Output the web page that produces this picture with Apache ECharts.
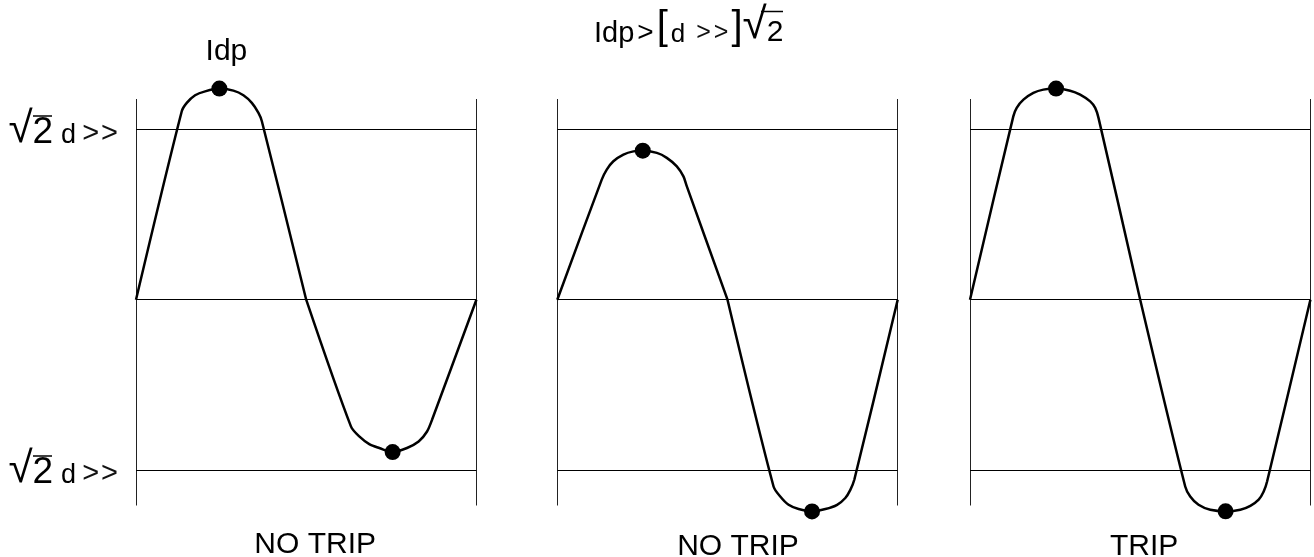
<!DOCTYPE html>
<html>
<head>
<meta charset="utf-8">
<script src="https://cdn.jsdelivr.net/npm/echarts@6/dist/echarts.min.js"></script>
<style>
  html, body { margin: 0; padding: 0; background: #fff; }
  #chart { width: 1314px; height: 557px; }
</style>
</head>
<body>
<div id="chart"></div>
<script>
// Phase angle (degrees) and differential current, in units of √2·d>>, for each case
const phase1 = [0, 48.4, 53.7, 62.5, 73.1, 88.2, 103.0, 113.6, 122.5, 129.5, 133.1, 180,
                227.3, 236.1, 246.7, 257.3, 271.4, 286.6, 298.9, 307.8, 313.1, 360];
const wave1  = [0, 1.108, 1.157, 1.202, 1.225, 1.241, 1.229, 1.202, 1.157, 1.098, 1.049, 0,
                -0.745, -0.804, -0.849, -0.872, -0.896, -0.872, -0.834, -0.775, -0.706, 0];

const phase2 = [0, 47.0, 52.3, 59.3, 69.9, 80.5, 90.4, 105.3, 115.8, 126.4, 133.4, 137.0, 180,
                228.7, 235.8, 244.6, 255.2, 269.4, 283.5, 295.9, 304.6, 309.9, 314.1, 360];
const wave2  = [0, 0.706, 0.765, 0.814, 0.853, 0.872, 0.876, 0.863, 0.834, 0.784, 0.725, 0.666, 0,
                -1.098, -1.157, -1.206, -1.231, -1.245, -1.231, -1.206, -1.166, -1.118, -1.059, 0];

const phase3 = [0, 45.8, 49.4, 56.5, 67.0, 77.6, 91.0, 105.9, 116.5, 127.1, 132.4, 135.9, 180,
                227.6, 232.9, 241.7, 254.1, 270.3, 285.9, 296.5, 305.3, 310.6, 314.2, 360];
const wave3  = [0, 1.078, 1.128, 1.176, 1.216, 1.235, 1.241, 1.229, 1.206, 1.166, 1.128, 1.069, 0,
                -1.098, -1.157, -1.206, -1.235, -1.244, -1.235, -1.212, -1.176, -1.128, -1.069, 0];

// Positive and negative peaks (Idp) of each waveform: [phase, value]
const peaks1 = [[88.2, 1.241], [271.4, -0.896]];
const peaks2 = [[90.4, 0.876], [269.4, -1.245]];
const peaks3 = [[91.0, 1.241], [270.3, -1.244]];

// Reference levels: +√2·d>>, zero, −√2·d>>
const levels = [1, 0, -1];
const thresholdTicks = [1, -1];
const verdicts = ['NO TRIP', 'NO TRIP', 'TRIP'];

const phases = [phase1, phase2, phase3];
const waves = [wave1, wave2, wave3];
const peaks = [peaks1, peaks2, peaks3];

// Layout
const FONT = '"Liberation Sans", Arial, sans-serif';
const panelLeft = [136, 557.3, 970];
const panelWidth = 340.4;
const plotTop = 99;
const plotHeight = 406.5;
const verdictShift = [18, 21, 8];
const verdictGap = [24, 26, 26];

const chart = echarts.init(document.getElementById('chart'), null, { renderer: 'canvas' });

const grid = panelLeft.map(l => ({
  left: l, top: plotTop, width: panelWidth, height: plotHeight,
  containLabel: false, outerBoundsMode: 'none'
}));

const xAxis = panelLeft.map((_, i) => ({
  gridIndex: i,
  type: 'value',
  min: 0, max: 360, interval: 360,
  axisLine: { show: false },
  axisTick: { show: false },
  axisLabel: { show: false },
  splitLine: { show: true, lineStyle: { color: '#222', width: 1 } },
  name: verdicts[i],
  nameLocation: 'middle',
  nameGap: verdictGap[i],
  nameTextStyle: { fontSize: 30, fontFamily: FONT, color: '#000', padding: [0, 0, 0, verdictShift[i]] }
}));

// text pieces sit on a common bottom edge so their baselines line up
const tok = (size, extra) => Object.assign(
  { fontSize: size, lineHeight: size, fontFamily: FONT, fontWeight: 'normal', color: '#000', verticalAlign: 'bottom' },
  extra || {});

const levelRich = {
  r: tok(44),
  n: tok(37, { padding: [0, 8, 0, 0] }),
  d: tok(27, { padding: [0, 6, 3, 0] }),
  g: tok(29, { padding: [0, 0, 3, 0], color: '#111' }),
  h: tok(29, { padding: [0, 0, 3, 2], color: '#111' })
};

const yAxis = panelLeft.map((_, i) => ({
  gridIndex: i,
  type: 'value',
  min: -1.21, max: 1.18,
  axisLine: { show: false },
  axisTick: { show: false },
  splitLine: { show: false },
  axisLabel: i === 0 ? {
    show: true,
    customValues: thresholdTicks,
    margin: 18,
    formatter: () => '{r|√}{n|2}{d|d}{g|>}{h|>}',
    rich: levelRich
  } : { show: false }
}));

// Each half-cycle is its own line so the kink at the zero crossing stays sharp
const series = [];
panelLeft.forEach((_, i) => {
  const pts = phases[i].map((p, k) => [p, waves[i][k]]);
  const mid = phases[i].indexOf(180);
  [pts.slice(0, mid + 1), pts.slice(mid)].forEach((half, h) => {
    const s = {
      type: 'line',
      xAxisIndex: i, yAxisIndex: i,
      data: half,
      showSymbol: false,
      smooth: 0.3,
      clip: false,
      lineStyle: { color: '#000', width: 2.5 },
      silent: true,
      z: 3
    };
    if (h === 0) {
      s.markLine = {
        silent: true,
        symbol: 'none',
        label: { show: false },
        lineStyle: { color: '#000', width: 1, type: 'solid' },
        emphasis: { disabled: true },
        data: levels.map(v => ({ yAxis: v }))
      };
    }
    series.push(s);
  });
  series.push({
    type: 'scatter',
    xAxisIndex: i, yAxisIndex: i,
    data: peaks[i].map((p, k) => ({
      value: p,
      label: (i === 0 && k === 0) ? {
        show: true, formatter: 'Idp', position: 'top', distance: 14, offset: [7, 0],
        fontSize: 30, fontFamily: FONT, color: '#000'
      } : { show: false }
    })),
    symbol: 'circle',
    symbolSize: 16,
    clip: false,
    itemStyle: { color: '#000', opacity: 1 },
    silent: true,
    z: 4
  });
});

const titleRich = {
  a: tok(29),
  b: tok(28, { padding: [0, 3, 1, 3] }),
  c: tok(40),
  d: tok(26, { padding: [0, 11, 0, 3] }),
  e: tok(25, { padding: [0, 0, 2, 0], color: '#111' }),
  e2: tok(25, { padding: [0, 3, 2, 3], color: '#111' }),
  f: tok(44),
  s: tok(30)
};

chart.setOption({
  backgroundColor: '#fff',
  animation: false,
  title: {
    text: '{a|Idp}{b|>}{c|[}{d|d}{e|>}{e2|>}{c|]}{f|√}{s|2}',
    left: 594, top: 4, padding: 0,
    textStyle: { fontWeight: 'normal', rich: titleRich }
  },
  grid, xAxis, yAxis, series,
  graphic: [
    // vinculum of the radicals
    { type: 'line', shape: { x1: 33, y1: 116, x2: 52, y2: 116 }, style: { stroke: '#000', lineWidth: 1.5 } },
    { type: 'line', shape: { x1: 33, y1: 456, x2: 52, y2: 456 }, style: { stroke: '#000', lineWidth: 1.5 } },
    { type: 'line', shape: { x1: 761, y1: 11.5, x2: 783, y2: 11.5 }, style: { stroke: '#000', lineWidth: 1.5 } }
  ]
});
</script>
</body>
</html>
